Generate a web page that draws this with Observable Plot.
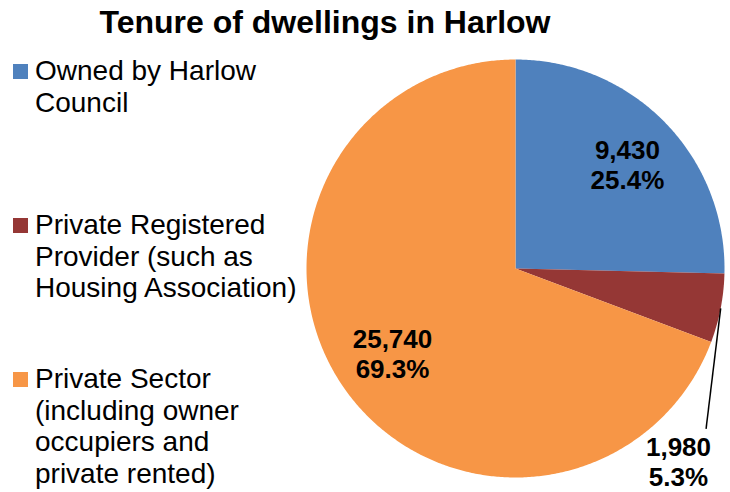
<!DOCTYPE html>
<html>
<head>
<meta charset="utf-8">
<script src="https://cdn.jsdelivr.net/npm/d3@7"></script>
<script src="https://cdn.jsdelivr.net/npm/@observablehq/plot@0.6"></script>
<style>
  html, body { margin: 0; padding: 0; background: #fff; }
  #wrap { position: relative; width: 730px; height: 492px; overflow: hidden; font-family: "Liberation Sans", Arial, sans-serif; }
  #title { position: absolute; left: 0; top: 6px; width: 650px; text-align: center; font-size: 32px; line-height: 32px; font-weight: bold; color: #000; }
  .item { position: absolute; left: 0; }
  .sw { position: absolute; left: 13px; top: 9px; width: 15px; height: 15px; }
  .lt { position: absolute; left: 35px; top: 0; font-size: 28px; line-height: 31.5px; white-space: pre; color: #000; }
  #chart { position: absolute; left: 0; top: 0; }
</style>
</head>
<body>
<div id="wrap">
  <div id="chart"></div>
  <div id="title"></div>
  <div id="legend"></div>
</div>
<script>
const title = "Tenure of dwellings in Harlow";
const categories = [
  "Owned by Harlow Council",
  "Private Registered Provider (such as Housing Association)",
  "Private Sector (including owner occupiers and private rented)"
];
const legendLines = [
  ["Owned by Harlow", "Council"],
  ["Private Registered", "Provider (such as", "Housing Association)"],
  ["Private Sector", "(including owner", "occupiers and", "private rented)"]
];
const values = [9430, 1980, 25740];
const colors = ["#4F81BD", "#953735", "#F79646"];

document.getElementById("title").textContent = title;

// legend
const legend = document.getElementById("legend");
categories.forEach((c, i) => {
  const item = document.createElement("div");
  item.className = "item";
  item.style.top = (55 + i * 154) + "px";
  const sw = document.createElement("div");
  sw.className = "sw";
  sw.style.background = colors[i];
  const lt = document.createElement("div");
  lt.className = "lt";
  lt.textContent = legendLines[i].join("\n");
  item.appendChild(sw);
  item.appendChild(lt);
  legend.appendChild(item);
});

// pie geometry
const data = categories.map((c, i) => ({cat: c, value: values[i]}));
const total = d3.sum(values);
const arcs = d3.pie().sort(null).value(d => d.value)(data);

const polys = [];
arcs.forEach(a => {
  polys.push({cat: a.data.cat, x: 0, y: 0});
  const n = Math.max(2, Math.ceil((a.endAngle - a.startAngle) / (Math.PI / 360)));
  for (let k = 0; k <= n; k++) {
    const t = a.startAngle + (a.endAngle - a.startAngle) * k / n;
    polys.push({cat: a.data.cat, x: Math.sin(t), y: Math.cos(t)});
  }
  polys.push({cat: a.data.cat, x: 0, y: 0});
});

const fmt = d3.format(",");
const pct = d3.format(".1%");
// label placement: inside labels at ~0.72 r; small slice label placed outside (best fit) with a leader line
const labelRadius = [0.73, 1.21, 0.716];
const labelAngleShift = [1.5, 38.9, 0];
const labels = arcs.map((a, i) => {
  const mid = (a.startAngle + a.endAngle) / 2 + labelAngleShift[i] * Math.PI / 180;
  return {
    cat: a.data.cat,
    x: labelRadius[i] * Math.sin(mid),
    y: labelRadius[i] * Math.cos(mid),
    text: fmt(a.data.value) + "\n" + pct(a.data.value / total),
    mid: (a.startAngle + a.endAngle) / 2
  };
});
const outside = labels.filter((d, i) => labelRadius[i] > 1);
const leaders = outside.map(d => ({
  x1: Math.sin(d.mid), y1: Math.cos(d.mid),
  x2: d.x + 0.132, y2: d.y + 0.158
}));

const chart = Plot.plot({
  width: 730,
  height: 492,
  margin: 0,
  style: {fontFamily: '"Liberation Sans", Arial, sans-serif', background: "transparent"},
  x: {domain: [-1, 1], range: [306, 724], axis: null},
  y: {domain: [-1, 1], range: [477, 59], axis: null},
  color: {domain: categories, range: colors},
  marks: [
    Plot.line(polys, {x: "x", y: "y", z: "cat", fill: "cat", stroke: "none", curve: "linear"}),
    Plot.link(leaders, {x1: "x1", y1: "y1", x2: "x2", y2: "y2", stroke: "#000", strokeWidth: 1.5}),
    Plot.text(labels, {x: "x", y: "y", text: "text", fill: "#000", fontSize: 26, fontWeight: "bold", lineHeight: 1.15, lineAnchor: "middle", textAnchor: "middle"})
  ]
});
document.getElementById("chart").appendChild(chart);
</script>
</body>
</html>
